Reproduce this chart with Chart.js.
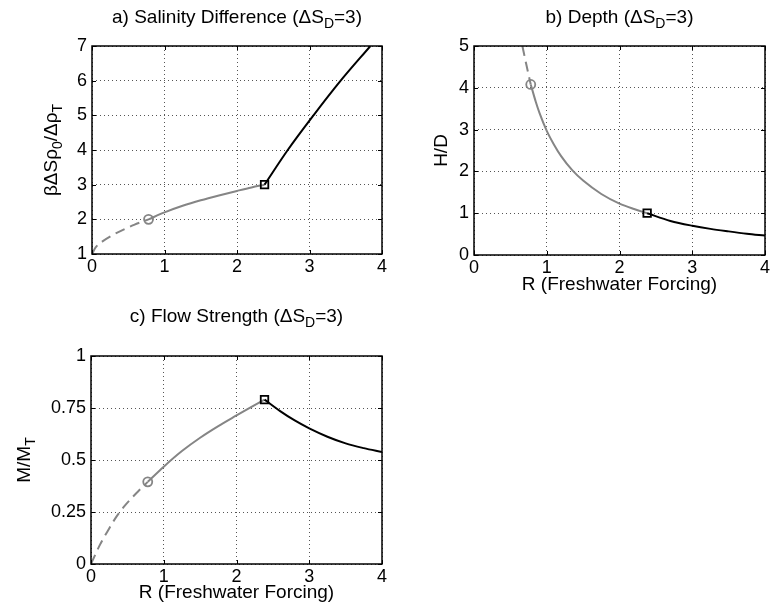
<!DOCTYPE html>
<html>
<head>
<meta charset="utf-8">
<script src="https://cdn.jsdelivr.net/npm/chart.js@4/dist/chart.umd.min.js"></script>
<style>
  body { margin: 0; background: #fff; }
  #wrap { position: relative; width: 781px; height: 615px; }
  canvas { position: absolute; }
</style>
</head>
<body>
<div id="wrap">
  <canvas id="panel-a" width="390" height="300" style="left:0;top:0"></canvas>
  <canvas id="panel-b" width="391" height="300" style="left:390px;top:0"></canvas>
  <canvas id="panel-c" width="390" height="315" style="left:0;top:300px"></canvas>
</div>
<script>
// tick values
const R_TICKS = [0, 1, 2, 3, 4];
const SAL_TICKS = [1, 2, 3, 4, 5, 6, 7];
const DEPTH_TICKS = [0, 1, 2, 3, 4, 5];
const FLOW_TICKS = [0, 0.25, 0.5, 0.75, 1];

// a) salinity difference
const salDashR = [0, 0.05, 0.15, 0.28, 0.45, 0.58, 0.78];
const salDash = [1.0, 1.19, 1.37, 1.54, 1.72, 1.84, 2.0];
const salGrayR = [0.78, 1.0, 1.25, 1.5, 1.75, 2.0, 2.2, 2.38];
const salGray = [2.0, 2.2, 2.39, 2.55, 2.69, 2.82, 2.92, 3.0];
const salBlackR = [2.38, 2.7, 3.055, 3.43, 3.84];
const salBlack = [3.0, 4.0, 5.0, 6.0, 7.0];

// b) depth
const depDashR = [0.665, 0.72, 0.78];
const depDash = [5.0, 4.55, 4.08];
const depGrayR = [0.78, 0.85, 0.9, 1.0, 1.1, 1.2, 1.35, 1.5, 1.75, 2.0, 2.2, 2.38];
const depGray = [4.08, 3.66, 3.4, 2.97, 2.64, 2.36, 2.03, 1.78, 1.46, 1.23, 1.1, 1.0];
const depBlackR = [2.38, 2.7, 3.0, 3.25, 3.5, 3.75, 4.0];
const depBlack = [1.0, 0.815, 0.7, 0.625, 0.565, 0.51, 0.465];

// c) flow strength
const flowDashR = [0, 0.124, 0.24, 0.35, 0.468, 0.65, 0.78];
const flowDash = [0, 0.093, 0.165, 0.228, 0.282, 0.35, 0.395];
const flowGrayR = [0.78, 1.0, 1.25, 1.5, 1.75, 2.0, 2.2, 2.385];
const flowGray = [0.395, 0.468, 0.543, 0.607, 0.663, 0.714, 0.754, 0.79];
const flowBlackR = [2.385, 2.6, 2.8, 3.0, 3.25, 3.5, 3.75, 4.0];
const flowBlack = [0.79, 0.735, 0.69, 0.652, 0.612, 0.58, 0.557, 0.538];

// labels (sub: true -> subscript)
const titleA = [{t: 'a) Salinity Difference (\u0394S'}, {t: 'D', sub: true}, {t: '=3)'}];
const titleB = [{t: 'b) Depth (\u0394S'}, {t: 'D', sub: true}, {t: '=3)'}];
const titleC = [{t: 'c) Flow Strength (\u0394S'}, {t: 'D', sub: true}, {t: '=3)'}];
const ylabelA = [{t: '\u03b2\u0394S\u03c1'}, {t: '0', sub: true}, {t: '/\u0394\u03c1'}, {t: 'T', sub: true}];
const ylabelB = [{t: 'H/D'}];
const ylabelC = [{t: 'M/M'}, {t: 'T', sub: true}];
const xlabel = [{t: 'R (Freshwater Forcing)'}];

const GRAY = '#858585';
const FONT = '"Liberation Sans", Arial, Helvetica, sans-serif';

function pts(xs, ys) {
    return xs.map((x, i) => ({ x: x, y: ys[i] }));
}

function lineSet(xs, ys, color, dash) {
    return {
        data: pts(xs, ys),
        showLine: true,
        borderColor: color,
        borderWidth: 2,
        borderDash: dash || [],
        pointRadius: 0,
        cubicInterpolationMode: 'monotone',
        fill: false
    };
}

function markerSet(x, y, style, color, radius) {
    return {
        data: [{ x: x, y: y }],
        showLine: false,
        pointStyle: style,
        pointRadius: radius,
        pointBorderWidth: 1.8,
        pointBorderColor: color,
        pointBackgroundColor: 'rgba(0,0,0,0)'
    };
}

/**
 * Draw text with subscripts, centred on (cx, cy) baseline
 */
function drawRich(ctx, parts, cx, cy, rot) {
    ctx.save();
    ctx.translate(cx, cy);
    ctx.rotate(rot);
    ctx.fillStyle = '#000';
    ctx.textBaseline = 'alphabetic';
    ctx.textAlign = 'left';
    const big = '19px ' + FONT, small = '14px ' + FONT;
    let total = 0;
    parts.forEach(p => {
        ctx.font = p.sub ? small : big;
        p.w = ctx.measureText(p.t).width;
        total += p.w;
    });
    let x = -total / 2;
    parts.forEach(p => {
        ctx.font = p.sub ? small : big;
        ctx.fillText(p.t, x, p.sub ? 5 : 0);
        x += p.w;
    });
    ctx.restore();
}

// frame, inward ticks and labels (matlab style)
const decor = {
    id: 'decor',
    afterDraw(chart, args, opts) {
        const ctx = chart.ctx;
        const a = chart.chartArea;
        const xs = chart.scales.x, ys = chart.scales.y;
        ctx.save();
        ctx.strokeStyle = '#000';
        ctx.lineWidth = 1;
        ctx.beginPath();
        xs.ticks.forEach(t => {
            const px = Math.round(xs.getPixelForValue(t.value)) + 0.5;
            ctx.moveTo(px, a.bottom); ctx.lineTo(px, a.bottom - 4);
            ctx.moveTo(px, a.top); ctx.lineTo(px, a.top + 4);
        });
        ys.ticks.forEach(t => {
            const py = Math.round(ys.getPixelForValue(t.value)) + 0.5;
            ctx.moveTo(a.left, py); ctx.lineTo(a.left + 4, py);
            ctx.moveTo(a.right, py); ctx.lineTo(a.right - 4, py);
        });
        ctx.stroke();
        ctx.lineWidth = 1.5;
        ctx.strokeRect(a.left, a.top, a.right - a.left, a.bottom - a.top);
        ctx.restore();

        const cx = (a.left + a.right) / 2;
        drawRich(ctx, opts.title, cx, opts.titleY, 0);
        drawRich(ctx, opts.ylabel, opts.ylabelX, (a.top + a.bottom) / 2, -Math.PI / 2);
        if (opts.xlabel) drawRich(ctx, opts.xlabel, cx, opts.xlabelY, 0);
    }
};

function makePanel(id, cfg) {
    const tickFont = { family: FONT, size: 18 };
    return new Chart(document.getElementById(id), {
        type: 'scatter',
        data: { datasets: cfg.sets },
        plugins: [decor],
        options: {
            responsive: false,
            animation: false,
            events: [],
            layout: { padding: { left: 0, top: cfg.top, right: cfg.w - cfg.right, bottom: 0 } },
            plugins: {
                legend: { display: false },
                tooltip: { enabled: false },
                decor: cfg.decor
            },
            scales: {
                x: {
                    type: 'linear',
                    min: 0,
                    max: 4,
                    afterBuildTicks: s => { s.ticks = R_TICKS.map(v => ({ value: v })); },
                    afterFit: s => { s.height = cfg.h - cfg.bottom; },
                    grid: { color: '#555', lineWidth: 1, drawTicks: false },
                    border: { display: false, dash: [1, 3] },
                    ticks: { color: '#000', font: tickFont, padding: 2, maxRotation: 0, callback: v => String(v) }
                },
                y: {
                    type: 'linear',
                    min: cfg.yTicks[0],
                    max: cfg.yTicks[cfg.yTicks.length - 1],
                    afterBuildTicks: s => { s.ticks = cfg.yTicks.map(v => ({ value: v })); },
                    afterFit: s => { s.width = cfg.left; },
                    grid: { color: '#555', lineWidth: 1, drawTicks: false },
                    border: { display: false, dash: [1, 3] },
                    ticks: { color: '#000', font: tickFont, padding: 5, callback: v => String(v) }
                }
            }
        }
    });
}

makePanel('panel-a', {
    w: 390, h: 300, left: 92, top: 46, right: 382, bottom: 254,
    yTicks: SAL_TICKS,
    sets: [
        markerSet(salGrayR[0], salGray[0], 'circle', GRAY, 4.5),
        markerSet(salBlackR[0], salBlack[0], 'rect', '#000', 5.3),
        lineSet(salBlackR, salBlack, '#000'),
        lineSet(salGrayR, salGray, GRAY),
        lineSet(salDashR, salDash, GRAY, [10, 6])
    ],
    decor: { title: titleA, titleY: 23, ylabel: ylabelA, ylabelX: 57 }
});

makePanel('panel-b', {
    w: 391, h: 300, left: 84, top: 46, right: 375, bottom: 255,
    yTicks: DEPTH_TICKS,
    sets: [
        markerSet(depGrayR[0], depGray[0], 'circle', GRAY, 4.5),
        markerSet(depBlackR[0], depBlack[0], 'rect', '#000', 5.3),
        lineSet(depBlackR, depBlack, '#000'),
        lineSet(depGrayR, depGray, GRAY),
        lineSet(depDashR, depDash, GRAY, [10, 6])
    ],
    decor: { title: titleB, titleY: 23, ylabel: ylabelB, ylabelX: 57, xlabel: xlabel, xlabelY: 290 }
});

makePanel('panel-c', {
    w: 390, h: 315, left: 91, top: 56, right: 382, bottom: 264,
    yTicks: FLOW_TICKS,
    sets: [
        markerSet(flowGrayR[0], flowGray[0], 'circle', GRAY, 4.5),
        markerSet(flowBlackR[0], flowBlack[0], 'rect', '#000', 5.3),
        lineSet(flowBlackR, flowBlack, '#000'),
        lineSet(flowGrayR, flowGray, GRAY),
        lineSet(flowDashR, flowDash, GRAY, [10, 6])
    ],
    decor: { title: titleC, titleY: 22, ylabel: ylabelC, ylabelX: 30, xlabel: xlabel, xlabelY: 298 }
});
</script>
</body>
</html>
